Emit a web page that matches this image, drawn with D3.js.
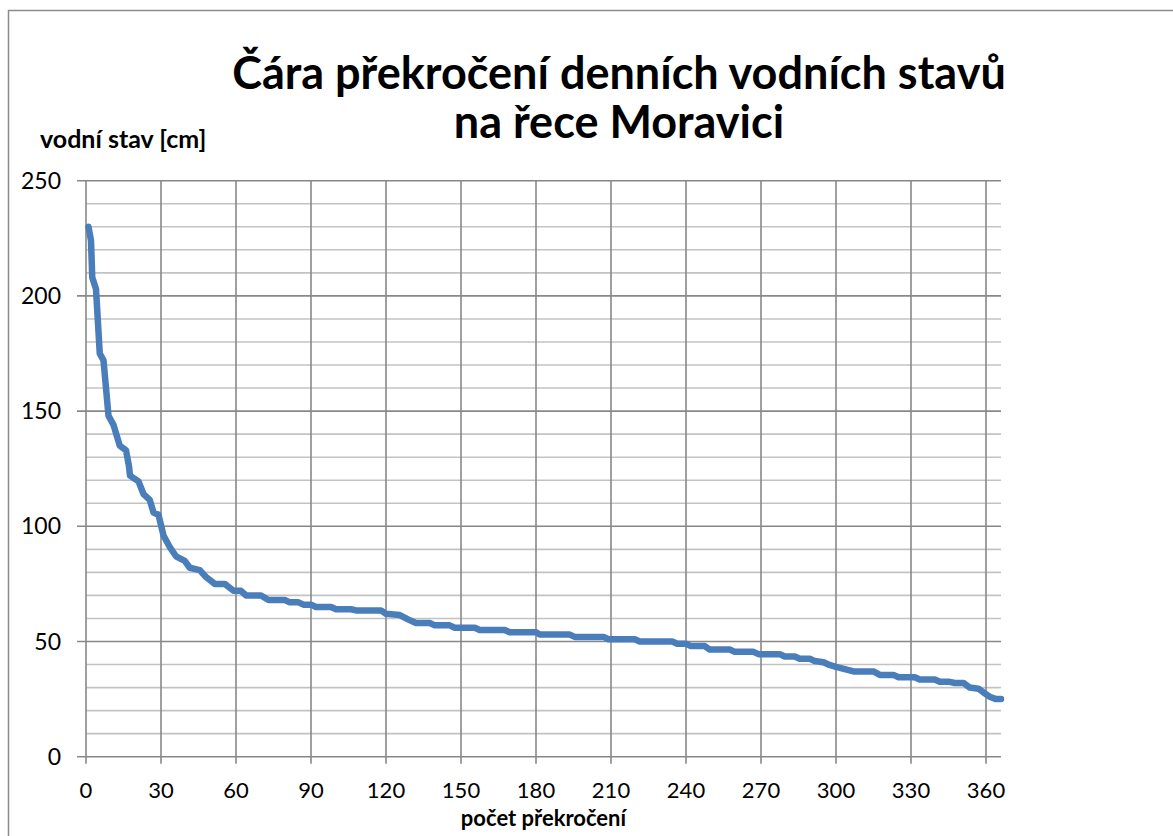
<!DOCTYPE html>
<html>
<head>
<meta charset="utf-8">
<script src="https://cdn.jsdelivr.net/npm/d3@7"></script>
<style>
body{margin:0;background:#fff}
text{font-family:Lato,"Open Sans",sans-serif;fill:#000}
</style>
</head>
<body>
<div id="chart"></div>
<script>
// breakpoints of the duration curve
var days = [1,2,2.5,4,5.5,7,9,11,13.5,16,17.2,17.6,21,23,25.5,27,29,31,33.5,36,39.5,41.5,45.5,48,51.5,55.5,59,62,64,70,73,79.5,81.5,85,87,90,92,98,100,106,108,118,120,125.5,129,132,137.5,139.5,145.5,147.5,155.5,157.5,167.5,169.5,180,181.5,193.5,195.5,207,209,219.5,221.5,234.5,236.5,240,242,247.5,249.5,257.5,259.5,267,269,277.5,279.5,283.5,285.5,289.5,291.5,295,297,300,303.5,307,315,317.5,323,325,331.5,333.5,339.5,341.5,345.5,347.5,351,353.5,357,359.5,361.5,364,366]
var levels = [230,224,208,203,175,172,148,144,135,133,126,122,119.5,114,111.5,106,105,96,91,87,85,82,81,78,75,75,72,72,70,70,68,68,67,67,66,66,65,65,64,64,63.5,63.5,62,61.5,59.5,58,58,57,57,56,56,55,55,54,54,53,53,52,52,51,51,50,50,49,49,48,48,46.5,46.5,45.5,45.5,44.5,44.5,43.5,43.5,42.5,42.5,41.5,41,40,39,38,37,37,35.5,35.5,34.5,34.5,33.5,33.5,32.5,32.5,32,32,30,29.5,27.5,26,25,25]
var xTicks = [0,30,60,90,120,150,180,210,240,270,300,330,360]
var yTicks = [0,50,100,150,200,250]
var yMinor = [10,20,30,40,60,70,80,90,110,120,130,140,160,170,180,190,210,220,230,240]

var titleLines = ['Čára překročení denních vodních stavů','na řece Moravici']
var yTitle = 'vodní stav [cm]'
var xTitle = 'počet překročení'

function MakeChart(container){
    var W=1173, H=836
    var left=86, right=1001, top=180.7, bottom=756.7
    var tick=9
    var major='#888888', minor='#c3c3c3'

    var svg=d3.select(container).append('svg')
	.attr('width',W)
	.attr('height',H)

    // chart frame, runs off the right and bottom edge
    svg.append('rect')
	.attr('x',8.5).attr('y',10.5)
	.attr('width',1300).attr('height',1000)
	.attr('fill','#fff')
	.attr('stroke','#8c8c8c')
	.attr('stroke-width',1.5)

    var x=d3.scaleLinear().domain([0,366]).range([left,right])
    var y=d3.scaleLinear().domain([0,250]).range([bottom,top])

    // minor horizontal grid
    svg.append('g').selectAll('line')
	.data(yMinor).enter().append('line')
	.attr('x1',left).attr('x2',right)
	.attr('y1',function(d){return y(d)})
	.attr('y2',function(d){return y(d)})
	.attr('stroke',minor).attr('stroke-width',1.6)

    // major horizontal grid + y ticks
    svg.append('g').selectAll('line')
	.data(yTicks).enter().append('line')
	.attr('x1',left-tick).attr('x2',right)
	.attr('y1',function(d){return y(d)})
	.attr('y2',function(d){return y(d)})
	.attr('stroke',major).attr('stroke-width',1.6)

    // vertical grid + x ticks
    svg.append('g').selectAll('line')
	.data(xTicks).enter().append('line')
	.attr('x1',function(d){return x(d)})
	.attr('x2',function(d){return x(d)})
	.attr('y1',top).attr('y2',bottom+tick-2)
	.attr('stroke',major).attr('stroke-width',1.6)

    // tick labels
    svg.append('g').selectAll('text')
	.data(yTicks).enter().append('text')
	.attr('x',61).attr('y',function(d){return y(d)+8})
	.attr('text-anchor','end')
	.style('font-size','23px')
	.text(function(d){return d})

    svg.append('g').selectAll('text')
	.data(xTicks).enter().append('text')
	.attr('x',function(d){return x(d)}).attr('y',798)
	.attr('text-anchor','middle')
	.style('font-size','22px')
	.text(function(d){return d})

    // the curve
    var line=d3.line()
	.x(function(d,i){return x(days[i])})
	.y(function(d){return y(d)})
    svg.append('path')
	.datum(levels)
	.attr('d',line)
	.attr('fill','none')
	.attr('stroke','#4a7ebb')
	.attr('stroke-width',6.5)
	.attr('stroke-linejoin','round')
	.attr('stroke-linecap','round')

    // titles
    svg.append('text')
	.attr('x',619).attr('y',89)
	.attr('text-anchor','middle')
	.style('font-size','45px').style('font-weight','bold')
	.text(titleLines[0])
    svg.append('text')
	.attr('x',619).attr('y',138)
	.attr('text-anchor','middle')
	.style('font-size','45px').style('font-weight','bold')
	.text(titleLines[1])

    svg.append('text')
	.attr('x',40).attr('y',148)
	.style('font-size','25px').style('font-weight','bold')
	.text(yTitle)
    svg.append('text')
	.attr('x',(left+right)/2).attr('y',826)
	.attr('text-anchor','middle')
	.style('font-size','22px').style('font-weight','bold')
	.text(xTitle)
}

MakeChart('#chart')
</script>
</body>
</html>
